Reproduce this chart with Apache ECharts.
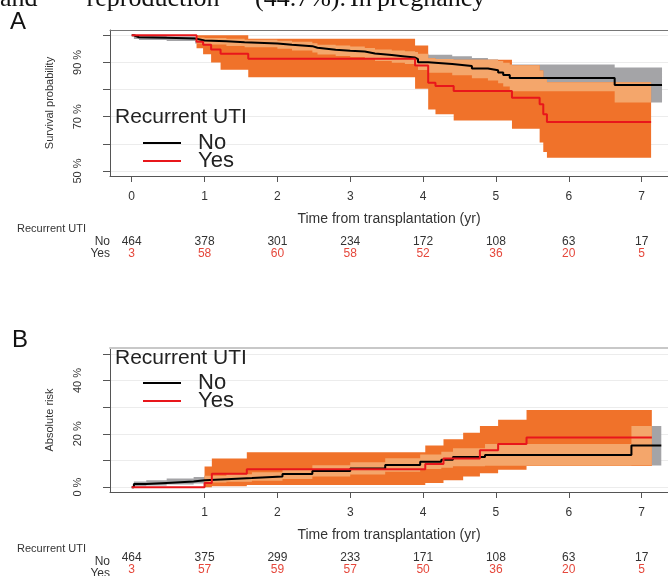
<!DOCTYPE html>
<html><head><meta charset="utf-8">
<script src="https://cdn.jsdelivr.net/npm/echarts@6/dist/echarts.min.js"></script>
<style>html,body{margin:0;padding:0;background:#fff}#c{width:668px;height:576px}</style>
</head><body><div id="c"></div>
<script>
// ---------- data ----------
const xTicksA = [0, 1, 2, 3, 4, 5, 6, 7];
const xTicksB = [1, 2, 3, 4, 5, 6, 7];
const riskTimes = [0, 1, 2, 3, 4, 5, 6, 7];
const riskNoA = [464, 378, 301, 234, 172, 108, 63, 17];
const riskYesA = [3, 58, 60, 58, 52, 36, 20, 5];
const riskNoB = [464, 375, 299, 233, 171, 108, 63, 17];
const riskYesB = [3, 57, 59, 57, 50, 36, 20, 5];
const yTicksA = [50, 60, 70, 80, 90, 100];
const yLabelsA = [50, 70, 90];
const yTicksB = [0, 10, 20, 30, 40, 50];
const yLabelsB = [0, 20, 40];

// Panel A: survival, No
const tNoA  = [0, 0.03, 0.1, 0.48, 0.87, 1.0, 1.3, 1.55, 2.0, 2.2, 2.48, 2.55, 2.8, 3.0, 3.2, 3.34, 3.57, 3.75, 3.89, 3.93, 4.07, 4.4, 4.67, 4.89, 5.03, 5.1, 5.19, 6.63, 7.28];
const sNoA  = [100, 99.3, 99.1, 98.8, 98.1, 97.8, 97.4, 97.0, 96.5, 96.0, 95.4, 94.7, 94.3, 94.0, 93.3, 92.7, 92.2, 91.8, 91.2, 90.1, 89.4, 88.7, 87.8, 87.1, 86.3, 85.4, 84.3, 81.7, 81.7];
const hiNoA = [100, 100, 99.9, 99.6, 99.2, 99.0, 98.7, 98.4, 98.0, 97.6, 97.1, 96.5, 96.2, 95.9, 95.3, 94.8, 94.4, 94.1, 93.8, 93.2, 92.8, 92.3, 91.6, 91.1, 90.5, 89.9, 89.2, 88.1, 88.1];
const loNoA = [100, 98.6, 98.3, 97.9, 97.0, 96.6, 96.1, 95.6, 95.0, 94.4, 93.7, 92.9, 92.4, 92.0, 91.2, 90.5, 89.9, 89.4, 88.6, 87.2, 86.2, 85.3, 84.2, 83.3, 82.3, 81.1, 79.4, 75.2, 75.2];
// Panel A: survival, Yes
const tYesA  = [0, 0.89, 0.98, 1.09, 1.22, 1.6, 3.89, 4.07, 4.17, 4.42, 5.22, 5.6, 5.65, 5.7, 7.13];
const sYesA  = [100, 97.6, 96.5, 94.8, 93.2, 91.4, 88.9, 82.5, 81.3, 79.5, 77.0, 74.6, 70.9, 68.1, 68.1];
const hiYesA = [100, 100, 100, 100, 100, 98.7, 96.2, 91.5, 91.3, 91.0, 89.0, 87.0, 84.0, 82.7, 82.7];
const loYesA = [100, 95.2, 93.0, 90.0, 87.3, 84.5, 80.3, 72.7, 70.9, 68.6, 65.6, 60.5, 57.0, 54.9, 54.9];

// Panel B: absolute risk, No
const tNoB  = [0, 0.03, 0.2, 0.48, 0.85, 1.0, 1.3, 1.65, 2.07, 2.48, 3.0, 3.48, 3.96, 4.25, 4.41, 4.85, 6.86, 7.27];
const rNoB  = [0, 1.2, 1.6, 2.1, 2.6, 3.0, 3.4, 4.0, 4.9, 6.1, 7.0, 8.3, 9.5, 10.3, 11.3, 12.1, 15.6, 15.6];
const hiNoB = [0, 2.1, 2.6, 3.2, 3.8, 4.3, 4.8, 5.6, 6.7, 8.2, 9.3, 10.8, 12.2, 13.3, 14.6, 16.2, 22.9, 22.9];
const loNoB = [0, 0.3, 0.6, 1.0, 1.4, 1.7, 2.0, 2.4, 3.1, 4.0, 4.7, 5.8, 6.8, 7.3, 7.8, 8.0, 8.1, 8.1];
// Panel B: absolute risk, Yes
const tYesB  = [0, 1.0, 1.1, 1.58, 4.03, 4.28, 4.55, 4.78, 5.03, 5.42, 7.14];
const rYesB  = [0, 1.6, 5.0, 6.7, 8.7, 10.7, 10.7, 13.8, 16.2, 18.6, 18.6];
const hiYesB = [0, 7.7, 10.7, 13.1, 15.6, 18.0, 20.4, 22.9, 25.3, 28.9, 28.9];
const loYesB = [0, 0, 0.3, 0.8, 1.6, 2.6, 4.0, 5.2, 6.5, 7.9, 7.9];

// ---------- styles ----------
const FONT = 'Liberation Sans';
const C_NO = '#000000', C_YES = '#e8161b';
const C_GRAY = '#a4a4a7', C_ORANGE = '#f0722a', C_PEACH = '#f4a66b';
const xMin = -0.298, xMax = 7.362;

function xMain(grid, ticks) {
  return { type: 'value', gridIndex: grid, min: xMin, max: xMax, position: 'bottom',
    axisLine: { show: true, onZero: false, lineStyle: { color: '#555', width: 1 } },
    axisTick: { show: true, customValues: ticks, length: 6, lineStyle: { color: '#555' } },
    axisLabel: { show: true, customValues: ticks, margin: 15, fontSize: 12, color: '#333', fontFamily: FONT },
    splitLine: { show: false },
    name: 'Time from transplantation (yr)', nameLocation: 'middle', nameGap: 36,
    nameTextStyle: { fontSize: 14, color: '#333', fontFamily: FONT } };
}
function xBorder(grid, color, width) {
  return { type: 'value', gridIndex: grid, min: xMin, max: xMax, position: 'top',
    axisLine: { show: true, onZero: false, lineStyle: { color: color, width: width } },
    axisTick: { show: false }, axisLabel: { show: false }, splitLine: { show: false } };
}
function xRisk(grid, counts, color, offset) {
  return { type: 'value', gridIndex: grid, min: xMin, max: xMax, position: 'bottom', offset: offset,
    axisLine: { show: false, onZero: false }, axisTick: { show: false }, splitLine: { show: false },
    axisLabel: { show: true, customValues: riskTimes, margin: 0, fontSize: 12, color: color, fontFamily: FONT,
      formatter: v => String(counts[riskTimes.indexOf(v)]) } };
}
function yAx(grid, min, max, ticks, labels, name) {
  return { type: 'value', gridIndex: grid, min: min, max: max,
    axisLine: { show: true, onZero: false, lineStyle: { color: '#555' } },
    axisTick: { show: true, customValues: ticks, length: 7, lineStyle: { color: '#555' } },
    axisLabel: { show: true, customValues: labels, rotate: 90, margin: 27, fontSize: 11, color: '#333', fontFamily: FONT,
      formatter: v => v + ' %' },
    splitLine: { show: true, lineStyle: { color: '#ececec', width: 1 } },
    name: name, nameLocation: 'middle', nameRotate: 90, nameGap: 55,
    nameTextStyle: { fontSize: 11, color: '#333', fontFamily: FONT } };
}

// confidence band drawn as one step-shaped polygon through the axes' scales
function band(ts, lo, hi, color, xi, yi) {
  return { type: 'custom', xAxisIndex: xi, yAxisIndex: yi, silent: true, z: 2,
    data: [[ts[0], lo[0]]],
    renderItem: function (params, api) {
      const up = [], dn = [];
      for (let i = 0; i < ts.length - 1; i++) {
        up.push(api.coord([ts[i], hi[i]]), api.coord([ts[i + 1], hi[i]]));
        dn.push(api.coord([ts[i], lo[i]]), api.coord([ts[i + 1], lo[i]]));
      }
      return { type: 'polygon', shape: { points: up.concat(dn.reverse()) }, style: { fill: color } };
    } };
}
function stepAt(ts, vs, t) {
  let v = null;
  for (let i = 0; i < ts.length; i++) { if (ts[i] <= t + 1e-9) v = vs[i]; else break; }
  return v;
}
function overlap(ta, loa, hia, tb, lob, hib) {
  const start = Math.max(ta[0], tb[0]);
  const end = Math.min(ta[ta.length - 1], tb[tb.length - 1]);
  const ts = Array.from(new Set(ta.concat(tb))).filter(t => t >= start && t <= end).sort((a, b) => a - b);
  const lo = ts.map(t => Math.max(stepAt(ta, loa, t), stepAt(tb, lob, t)));
  const hi = ts.map((t, i) => Math.max(lo[i], Math.min(stepAt(ta, hia, t), stepAt(tb, hib, t))));
  return { ts, lo, hi };
}
function curve(name, ts, vs, color, xi, yi) {
  return { type: 'line', name: name, xAxisIndex: xi, yAxisIndex: yi, step: 'end', symbol: 'none', showSymbol: false,
    z: 3, lineStyle: { color: color, width: 2 }, itemStyle: { color: color },
    data: ts.map((t, i) => [t, vs[i]]) };
}

const ovA = overlap(tNoA, loNoA, hiNoA, tYesA, loYesA, hiYesA);
const ovB = overlap(tNoB, loNoB, hiNoB, tYesB, loYesB, hiYesB);

const series = [
  band(tNoA, loNoA, hiNoA, C_GRAY, 0, 0),
  band(tYesA, loYesA, hiYesA, C_ORANGE, 0, 0),
  band(ovA.ts, ovA.lo, ovA.hi, C_PEACH, 0, 0),
  curve('No', tNoA, sNoA, C_NO, 0, 0),
  curve('Yes', tYesA, sYesA, C_YES, 0, 0),
  band(tNoB, loNoB, hiNoB, C_GRAY, 4, 1),
  band(tYesB, loYesB, hiYesB, C_ORANGE, 4, 1),
  band(ovB.ts, ovB.lo, ovB.hi, C_PEACH, 4, 1),
  curve('No', tNoB, rNoB, C_NO, 4, 1),
  curve('Yes', tYesB, rYesB, C_YES, 4, 1)
];

function legendAt(top) {
  return { data: ['No', 'Yes'], left: 142, top: top, orient: 'vertical', itemWidth: 38, itemHeight: 14, itemGap: -4,
    padding: 0, selectedMode: false,
    itemStyle: { color: 'rgba(0,0,0,0)', borderWidth: 0, opacity: 0 },
    textStyle: { fontSize: 22, fontFamily: FONT, color: '#222', lineHeight: 16, padding: [0, 0, 0, 12] } };
}
function txt(text, x, y, size, opts) {
  return { type: 'text', x: x, y: y, silent: true, z: 10,
    style: Object.assign({ text: text, font: size + 'px "' + FONT + '"', fill: '#222', textAlign: 'left', textVerticalAlign: 'middle' }, opts || {}) };
}
function serif(text, x) {
  return { type: 'text', x: x, y: -1, silent: true,
    style: { text: text, font: '26px "Liberation Serif"', fill: '#111', textVerticalAlign: 'middle' } };
}

const option = {
  animation: false,
  backgroundColor: '#fff',
  textStyle: { fontFamily: FONT },
  grid: [
    { left: 110, top: 30, width: 558, height: 146 },
    { left: 110, top: 348, width: 558, height: 148 }
  ],
  xAxis: [
    xMain(0, xTicksA), xBorder(0, '#777', 1), xRisk(0, riskNoA, '#333', 60), xRisk(0, riskYesA, '#e5473b', 72),
    xMain(1, xTicksB), xBorder(1, '#c8c8c8', 2), xRisk(1, riskNoB, '#333', 60), xRisk(1, riskYesB, '#e5473b', 72)
  ],
  yAxis: [
    yAx(0, 48.16, 101.95, yTicksA, yLabelsA, 'Survival probability'),
    yAx(1, -1.82, 52.18, yTicksB, yLabelsB, 'Absolute risk')
  ],
  legend: [legendAt(132), legendAt(372)],
  series: series,
  graphic: [
    serif('and', 0),
    serif('\u201creproduction\u201d', 75),
    serif('(44.7%).', 255),
    serif('In', 350),
    serif('pregnancy', 377),
    txt('A', 10, 22, 24, { fill: '#111' }),
    txt('B', 12, 340, 24, { fill: '#111' }),
    txt('Recurrent UTI', 115, 117, 21),
    txt('Recurrent UTI', 115, 358, 21),
    txt('Recurrent UTI', 17, 229, 11, { fill: '#333' }),
    txt('No', 110, 242, 12, { fill: '#333', textAlign: 'right' }),
    txt('Yes', 110, 254, 12, { fill: '#333', textAlign: 'right' }),
    txt('Recurrent UTI', 17, 549, 11, { fill: '#333' }),
    txt('No', 110, 562, 12, { fill: '#333', textAlign: 'right' }),
    txt('Yes', 110, 574, 12, { fill: '#333', textAlign: 'right' })
  ]
};

const chart = echarts.init(document.getElementById('c'), null, { renderer: 'canvas' });
chart.setOption(option);
</script></body></html>
